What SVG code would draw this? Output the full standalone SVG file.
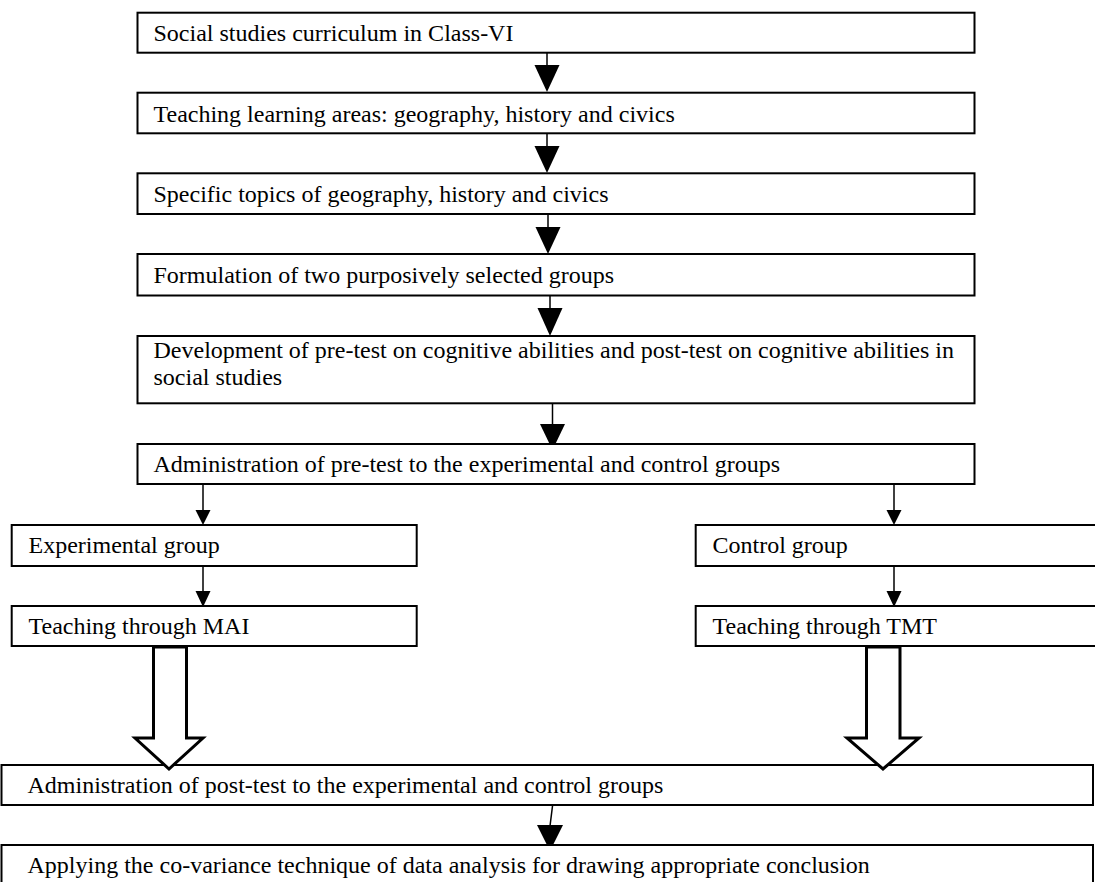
<svg xmlns="http://www.w3.org/2000/svg" width="1095" height="882" viewBox="0 0 1095 882">
<style>
.box{fill:#fff;stroke:#000;stroke-width:2}
.t{font-family:"Liberation Serif","Times New Roman",serif;font-size:24px;fill:#000}
.ln{stroke:#000;stroke-width:1.5;fill:none}
.hd{fill:#000;stroke:none}
.hol{fill:#fff;stroke:#000;stroke-width:3;stroke-linejoin:miter}
</style>
<rect width="1095" height="882" fill="#fff"/>
<g id="connectors">
<line class="ln" x1="547" y1="53" x2="547" y2="66"/><polygon class="hd" points="534.5,65 559.5,65 547,92"/>
<line class="ln" x1="547" y1="133" x2="547" y2="147"/><polygon class="hd" points="534.5,146 559.5,146 547,173"/>
<line class="ln" x1="548" y1="214" x2="548" y2="228"/><polygon class="hd" points="535.5,227 560.5,227 548,254"/>
<line class="ln" x1="550" y1="295" x2="550" y2="309"/><polygon class="hd" points="537.5,308 562.5,308 550,336"/>
<line class="ln" x1="552.5" y1="403" x2="552.5" y2="425"/><polygon class="hd" points="540,424 565,424 552.5,450"/>
<line class="ln" x1="203" y1="484" x2="203" y2="511"/><polygon class="hd" points="195.5,510 210.5,510 203,525"/>
<line class="ln" x1="894" y1="484" x2="894" y2="511"/><polygon class="hd" points="886.5,510 901.5,510 894,525"/>
<line class="ln" x1="203" y1="566" x2="203" y2="592"/><polygon class="hd" points="195.5,591 210.5,591 203,607"/>
<line class="ln" x1="894" y1="566" x2="894" y2="592"/><polygon class="hd" points="886.5,591 901.5,591 894,607"/>
<line class="ln" x1="552.5" y1="806" x2="550" y2="826"/><polygon class="hd" points="537,825 563,825 550,851"/>
</g>
<g id="n1"><rect class="box" x="137.5" y="12.7" width="837" height="40"/><text class="t" x="153.5" y="41">Social studies curriculum in Class-VI</text></g>
<g id="n2"><rect class="box" x="137.5" y="92.7" width="837" height="40.6"/><text class="t" x="153.5" y="121.5">Teaching learning areas: geography, history and civics</text></g>
<g id="n3"><rect class="box" x="137.5" y="173.3" width="837" height="40.7"/><text class="t" x="153.5" y="202">Specific topics of geography, history and civics</text></g>
<g id="n4"><rect class="box" x="137.5" y="254" width="837" height="41.5"/><text class="t" x="153.5" y="283">Formulation of two purposively selected groups</text></g>
<g id="n5"><rect class="box" x="137.5" y="336" width="837" height="67.3"/><text class="t" x="153.5" y="358">Development of pre-test on cognitive abilities and post-test on cognitive abilities in</text><text class="t" x="153.5" y="385">social studies</text></g>
<g id="n6"><rect class="box" x="137.5" y="444" width="837" height="40"/><text class="t" x="153.5" y="472">Administration of pre-test to the experimental and control groups</text></g>
<g id="n7"><rect class="box" x="11.7" y="525" width="405" height="41"/><text class="t" x="28.5" y="553">Experimental group</text></g>
<g id="n8"><rect class="box" x="695.7" y="525" width="420" height="41"/><text class="t" x="712.5" y="553">Control group</text></g>
<g id="n9"><rect class="box" x="11.7" y="606" width="405" height="40"/><text class="t" x="28.5" y="634">Teaching through MAI</text></g>
<g id="n10"><rect class="box" x="695.7" y="606" width="420" height="40"/><text class="t" x="712.5" y="634">Teaching through TMT</text></g>
<g id="n11"><rect class="box" x="1.5" y="765" width="1091.5" height="40"/><text class="t" x="27.5" y="793">Administration of post-test to the experimental and control groups</text></g>
<g id="n12"><rect class="box" x="1.5" y="845" width="1091.5" height="50"/><text class="t" x="27.5" y="873">Applying the co-variance technique of data analysis for drawing appropriate conclusion</text></g>
<g id="hollow">
<polygon class="hol" points="153.5,647 186.5,647 186.5,738 203,738 169,769 135,738 153.5,738"/>
<polygon class="hol" points="866.5,647 900,647 900,738 919,738 883,769 847,738 866.5,738"/>
</g>
</svg>
